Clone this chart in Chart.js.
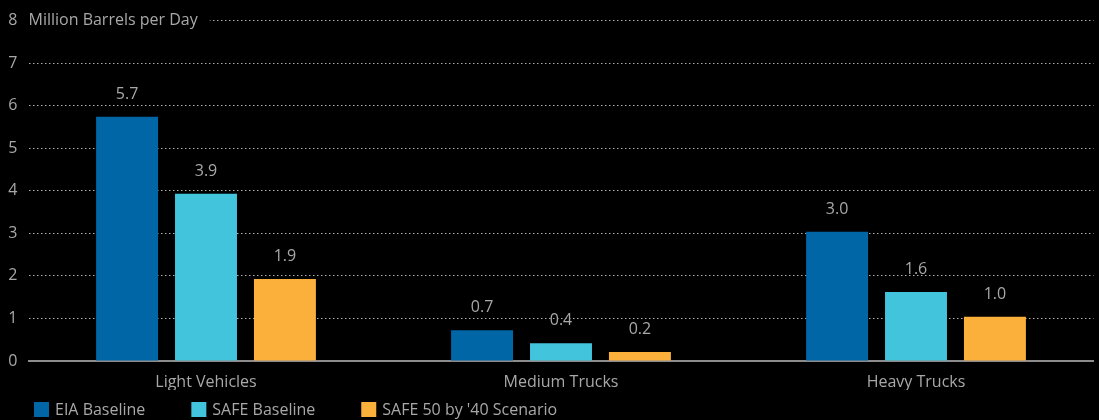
<!DOCTYPE html>
<html>
<head>
<meta charset="utf-8">
<script src="https://cdn.jsdelivr.net/npm/chart.js@4/dist/chart.umd.min.js"></script>
<style>
  html, body { margin: 0; padding: 0; background: #000; }
  canvas { display: block; }
</style>
</head>
<body>
<canvas id="fuelChart" width="1099" height="420"></canvas>
<script>
// Categories and series (million barrels per day)
const categories = ['Light Vehicles', 'Medium Trucks', 'Heavy Trucks'];
const eiaBaseline = [5.74, 0.72, 3.04];
const safeBaseline = [3.93, 0.42, 1.62];
const safe50Scenario = [1.93, 0.21, 1.04];
const yTicks = [0, 1, 2, 3, 4, 5, 6, 7, 8];
const unitLabel = 'Million Barrels per Day';

const textColor = '#a8a8a8';
const fontFamily = "'Open Sans', 'Noto Sans', sans-serif";

// Value labels above each bar
const valueLabels = {
    id: 'valueLabels',
    afterDatasetsDraw(chart) {
        const ctx = chart.ctx;
        ctx.save();
        ctx.fillStyle = textColor;
        ctx.font = '16px ' + fontFamily;
        ctx.textAlign = 'center';
        ctx.textBaseline = 'alphabetic';
        chart.data.datasets.forEach((ds, i) => {
            chart.getDatasetMeta(i).data.forEach((bar, j) => {
                ctx.fillText(ds.data[j].toFixed(1), bar.x, bar.y - 18);
            });
        });
        ctx.restore();
    }
};

// Unit title sitting on the top gridline + legend along the bottom
const extras = {
    id: 'extras',
    afterDraw(chart) {
        const ctx = chart.ctx;
        const area = chart.chartArea;
        const top = chart.scales.y.getPixelForValue(8);
        ctx.save();
        ctx.font = '16px ' + fontFamily;
        const w = ctx.measureText(unitLabel).width;
        ctx.fillStyle = '#000';
        ctx.fillRect(area.left - 2, top - 10, w + 14, 20);
        ctx.fillStyle = textColor;
        ctx.textBaseline = 'middle';
        ctx.fillText(unitLabel, area.left, top);

        // legend
        let x = 34;
        const y = 402;
        chart.data.datasets.forEach(ds => {
            ctx.fillStyle = ds.backgroundColor;
            ctx.fillRect(x, y, 15, 15);
            ctx.fillStyle = textColor;
            ctx.textBaseline = 'middle';
            ctx.fillText(ds.label, x + 21, y + 8);
            x += 21 + ctx.measureText(ds.label).width + 46;
        });
        ctx.restore();
    }
};

const config = {
    type: 'bar',
    data: {
        labels: categories,
        datasets: [
            { label: 'EIA Baseline', data: eiaBaseline, backgroundColor: '#0066a6' },
            { label: 'SAFE Baseline', data: safeBaseline, backgroundColor: '#42c4dc' },
            { label: "SAFE 50 by '40 Scenario", data: safe50Scenario, backgroundColor: '#fbb03b' }
        ]
    },
    options: {
        responsive: false,
        animation: false,
        layout: { padding: { top: 17.5, right: 5.5, bottom: 30, left: 0 } },
        datasets: {
            bar: { categoryPercentage: 0.667, barPercentage: 0.785, borderWidth: 0 }
        },
        plugins: {
            legend: { display: false },
            tooltip: { enabled: false }
        },
        scales: {
            x: {
                grid: { display: false },
                border: { display: true, color: '#8c8c8c', width: 2 },
                ticks: { color: textColor, font: { family: fontFamily, size: 16 }, padding: 4 },
                afterFit(scale) { scale.height = 29; }
            },
            y: {
                min: 0,
                max: 8,
                afterBuildTicks(scale) { scale.ticks = yTicks.map(v => ({ value: v })); },
                grid: { color: '#b0b0b0', lineWidth: 1, drawTicks: false },
                border: { display: false, dash: [1.5, 2.5] },
                ticks: { color: textColor, font: { family: fontFamily, size: 16 }, padding: 11 },
                afterFit(scale) { scale.width = 28.5; }
            }
        }
    },
    plugins: [valueLabels, extras]
};

new Chart(document.getElementById('fuelChart').getContext('2d'), config);
</script>
</body>
</html>
